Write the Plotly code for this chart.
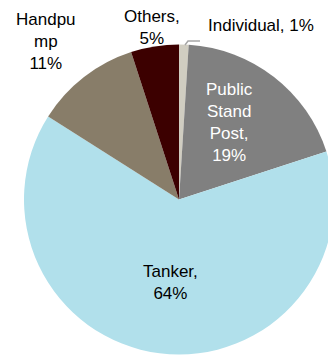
import plotly.graph_objects as go

# Share of households by main source of drinking water (%)
sources = ["Individual", "Public Stand Post", "Tanker", "Handpump", "Others"]
shares = [1, 19, 64, 11, 5]
colors = ["#D0CDC1", "#808080", "#B1E0EB", "#887D69", "#3C0000"]

W, H = 334, 356

fig = go.Figure(go.Pie(
    labels=sources,
    values=shares,
    sort=False,
    direction="clockwise",
    rotation=0,
    marker=dict(colors=colors, line=dict(width=0)),
    textinfo="none",
    hoverinfo="label+percent",
    showlegend=False,
    domain=dict(x=[24 / W, 1.0], y=[1 - 354.5 / H, 1 - 44.5 / H]),
))

font = dict(family="Liberation Sans, Arial, sans-serif", size=17)


def px(x, y):
    return x / W, 1 - y / H


label_text = {
    "Individual": f"Individual, {shares[0]}%",
    "Public Stand Post": f"Public<br>Stand<br>Post,<br>{shares[1]}%",
    "Tanker": f"Tanker,<br>{shares[2]}%",
    "Handpump": f"Handpu<br>mp<br>{shares[3]}%",
    "Others": f"Others,<br>{shares[4]}%",
}
label_pos = {
    "Individual": (261, 26, "#000000"),
    "Public Stand Post": (229, 122, "#FFFFFF"),
    "Tanker": (170, 282, "#000000"),
    "Handpump": (46, 41, "#000000"),
    "Others": (152, 27, "#000000"),
}

for name in sources:
    x, y, c = label_pos[name]
    ax, ay = px(x, y)
    fig.add_annotation(
        x=ax, y=ay, xref="paper", yref="paper",
        text=label_text[name], showarrow=False,
        xanchor="center", yanchor="middle", align="center",
        font=dict(font, color=c),
    )

# leader line for the thin "Individual" slice
p0, p1, p2 = px(185, 45), px(188, 41), px(200, 41)
fig.add_shape(
    type="path", xref="paper", yref="paper",
    path=f"M {p0[0]},{p0[1]} L {p1[0]},{p1[1]} L {p2[0]},{p2[1]}",
    line=dict(color="#A6A6A6", width=1.5),
)

fig.update_layout(
    width=W, height=H,
    margin=dict(l=0, r=0, t=0, b=0),
    paper_bgcolor="white",
    plot_bgcolor="white",
)

fig.write_html("out.html")
